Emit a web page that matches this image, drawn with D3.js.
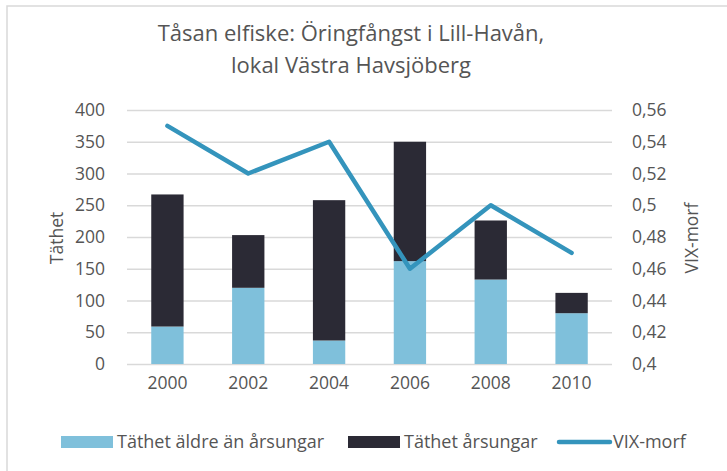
<!DOCTYPE html>
<html>
<head>
<meta charset="utf-8">
<script src="https://cdn.jsdelivr.net/npm/d3@7"></script>
<style>
  body { margin: 0; background: #fff; }
  svg { display: block; font-family: "Open Sans", sans-serif; }
</style>
</head>
<body>
<div class="chart"></div>
<script>
// data
const years = ["2000", "2002", "2004", "2006", "2008", "2010"];
const aldre = [59, 120, 37, 162, 133, 80];      // Täthet äldre än årsungar
const arsungar = [208, 83, 221, 188, 93, 32];   // Täthet årsungar
const vix = [0.55, 0.52, 0.54, 0.46, 0.50, 0.47];
const leftTicks = [0, 50, 100, 150, 200, 250, 300, 350, 400];
const rightTicks = [0.4, 0.42, 0.44, 0.46, 0.48, 0.5, 0.52, 0.54, 0.56];

const W = 727, H = 471;
const plot = { left: 127, right: 612, top: 110, bottom: 364 };
const col = { light: "#7fc0db", dark: "#2b2a35", line: "#3494bc", grid: "#d9d9d9", text: "#555555" };
const fs = "17.5px";

const svg = d3.select(".chart").append("svg").attr("width", W).attr("height", H);

// chart border (runs off the right/bottom edge)
svg.append("rect")
  .attr("x", 7).attr("y", 6).attr("width", W + 10).attr("height", H + 10)
  .attr("fill", "none").attr("stroke", col.grid).attr("stroke-width", 1.5);

// title
const title = svg.append("text").attr("text-anchor", "middle").attr("fill", col.text)
  .style("font-size", "22px");
title.append("tspan").attr("x", 351).attr("y", 41).text("Tåsan elfiske: Öringfångst i Lill-Havån,");
title.append("tspan").attr("x", 351).attr("y", 73).text("lokal Västra Havsjöberg");

const x = d3.scaleBand().domain(years).range([plot.left, plot.right]).paddingInner(0.6).paddingOuter(0.3);
const y = d3.scaleLinear().domain([0, 400]).range([plot.bottom, plot.top]);
const y2 = d3.scaleLinear().domain([0.4, 0.56]).range([plot.bottom, plot.top]);

// gridlines + left axis
const yAxis = svg.append("g").attr("transform", `translate(${plot.left},0)`)
  .call(d3.axisLeft(y).tickValues(leftTicks).tickSize(-(plot.right - plot.left)).tickPadding(22));
yAxis.select(".domain").remove();
yAxis.selectAll("line").attr("stroke", col.grid).attr("stroke-width", 1.3);
yAxis.selectAll("text").attr("fill", col.text).style("font-size", fs).style("font-family", "Open Sans");

// right axis
const fmt = d => d3.format(".2~f")(d).replace(".", ",");
const y2Axis = svg.append("g").attr("transform", `translate(${plot.right},0)`)
  .call(d3.axisRight(y2).tickValues(rightTicks).tickSize(0).tickPadding(20).tickFormat(fmt));
y2Axis.select(".domain").remove();
y2Axis.selectAll("text").attr("fill", col.text).style("font-size", fs).style("font-family", "Open Sans");

// x axis
const xAxis = svg.append("g").attr("transform", `translate(0,${plot.bottom})`)
  .call(d3.axisBottom(x).tickSize(0).tickPadding(13));
xAxis.select(".domain").remove();
xAxis.selectAll("text").attr("fill", col.text).style("font-size", fs).style("font-family", "Open Sans");

// axis titles
svg.append("text").attr("transform", "translate(63,238) rotate(-90)")
  .attr("text-anchor", "middle").attr("fill", col.text).style("font-size", fs).text("Täthet");
svg.append("text").attr("transform", "translate(698,238) rotate(-90)")
  .attr("text-anchor", "middle").attr("fill", col.text).style("font-size", fs).text("VIX-morf");

// stacked bars
const stack = years.map((yr, i) => ({ yr, a: aldre[i], b: arsungar[i] }));
const bars = svg.append("g");
bars.selectAll("rect.light").data(stack).join("rect")
  .attr("class", "light")
  .attr("x", d => x(d.yr)).attr("width", x.bandwidth())
  .attr("y", d => y(d.a)).attr("height", d => y(0) - y(d.a))
  .attr("fill", col.light);
bars.selectAll("rect.dark").data(stack).join("rect")
  .attr("class", "dark")
  .attr("x", d => x(d.yr)).attr("width", x.bandwidth())
  .attr("y", d => y(d.a + d.b)).attr("height", d => y(d.a) - y(d.a + d.b))
  .attr("fill", col.dark);

// VIX line
const line = d3.line()
  .x((d, i) => x(years[i]) + x.bandwidth() / 2)
  .y(d => y2(d));
svg.append("path").attr("d", line(vix))
  .attr("fill", "none").attr("stroke", col.line).attr("stroke-width", 4.5)
  .attr("stroke-linejoin", "round").attr("stroke-linecap", "round");

// legend
const lg = svg.append("g").style("font-size", "18px").attr("fill", col.text);
lg.append("rect").attr("x", 61).attr("y", 436).attr("width", 52).attr("height", 12).attr("fill", col.light);
lg.append("text").attr("x", 117).attr("y", 448).text("Täthet äldre än årsungar");
lg.append("rect").attr("x", 348).attr("y", 436).attr("width", 52).attr("height", 12).attr("fill", col.dark);
lg.append("text").attr("x", 404).attr("y", 448).text("Täthet årsungar");
lg.append("line").attr("x1", 559).attr("x2", 610).attr("y1", 442).attr("y2", 442)
  .attr("stroke", col.line).attr("stroke-width", 4.5).attr("stroke-linecap", "round");
lg.append("text").attr("x", 613).attr("y", 448).text("VIX-morf");
</script>
</body>
</html>
